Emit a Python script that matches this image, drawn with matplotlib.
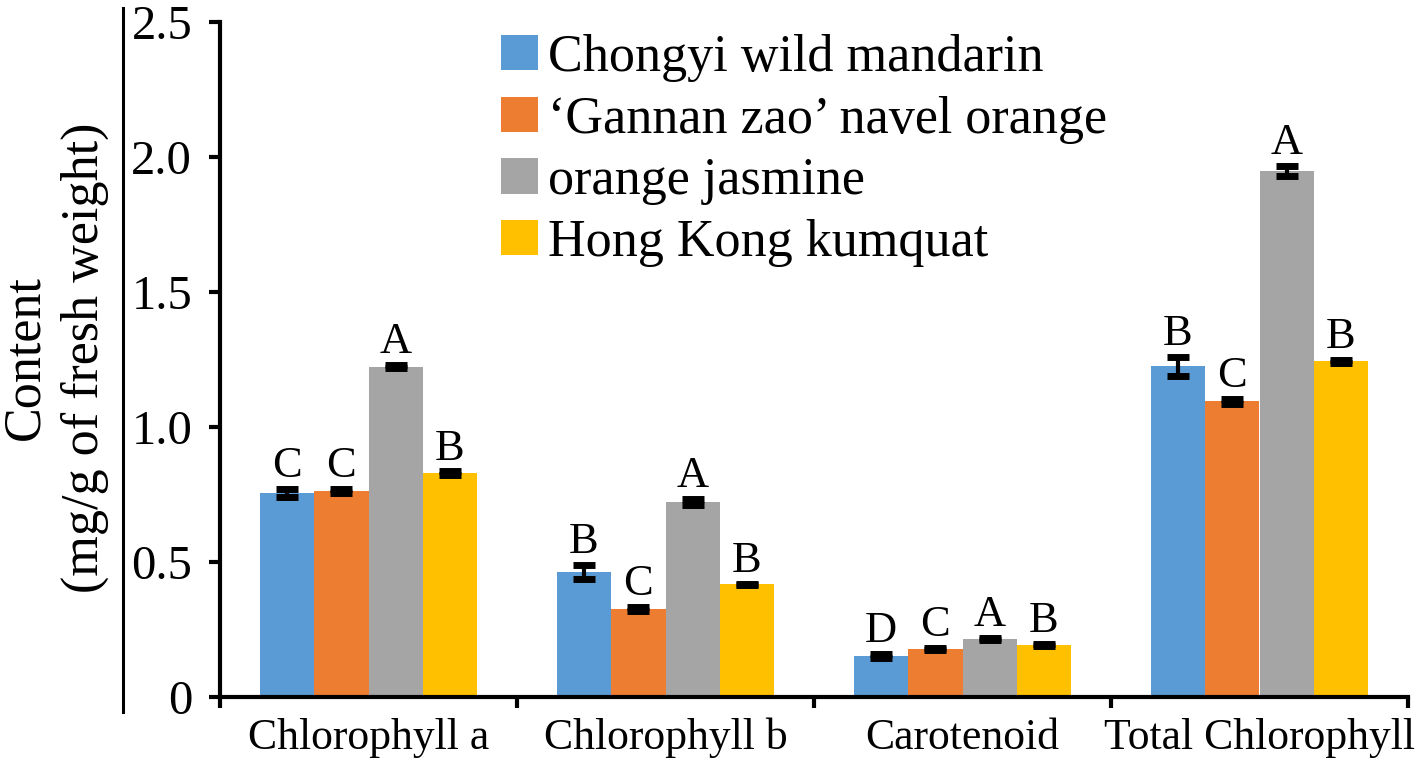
import numpy as np
import matplotlib.pyplot as plt
from matplotlib.lines import Line2D

plt.rcParams['font.family'] = ['Liberation Serif', 'DejaVu Serif']

categories = ["Chlorophyll a", "Chlorophyll b", "Carotenoid", "Total Chlorophyll"]
series = ["Chongyi wild mandarin", "\u2018Gannan zao\u2019 navel orange",
          "orange jasmine", "Hong Kong kumquat"]
colors = ["#5B9BD5", "#ED7D31", "#A5A5A5", "#FFC000"]

# values per series, one entry per category
wild_mandarin = [0.756, 0.463, 0.152, 1.225]
navel_orange = [0.763, 0.326, 0.178, 1.095]
orange_jasmine = [1.224, 0.723, 0.215, 1.948]
kumquat = [0.830, 0.417, 0.193, 1.243]

err_mandarin = [0.015, 0.025, 0.007, 0.035]
err_navel = [0.007, 0.007, 0.003, 0.010]
err_jasmine = [0.006, 0.012, 0.003, 0.018]
err_kumquat = [0.006, 0.003, 0.003, 0.005]

letters_mandarin = ["C", "B", "D", "B"]
letters_navel = ["C", "C", "C", "C"]
letters_jasmine = ["A", "A", "A", "A"]
letters_kumquat = ["B", "B", "B", "B"]

values = [wild_mandarin, navel_orange, orange_jasmine, kumquat]
errors = [err_mandarin, err_navel, err_jasmine, err_kumquat]
letters = [letters_mandarin, letters_navel, letters_jasmine, letters_kumquat]

fig = plt.figure(figsize=(14.18, 7.62), dpi=100)
ax = fig.add_axes([220 / 1418, 1 - 697 / 762, 1188 / 1418, 675 / 762])

x = np.arange(len(categories))
w = 0.183
for i in range(4):
    pos = x + (i - 1.5) * w
    ax.bar(pos, values[i], w, color=colors[i], label=series[i], zorder=2)
    ax.errorbar(pos, values[i], yerr=errors[i], fmt='none', ecolor='black',
                elinewidth=3, capsize=8, capthick=5, zorder=3)
    for p, v, e, t in zip(pos, values[i], errors[i], letters[i]):
        ax.annotate(t, (p, v + e), xytext=(0, 2), textcoords='offset points',
                    ha='center', va='bottom', fontsize=32)

ax.set_xlim(-0.5, 3.5)
ax.set_ylim(0, 2.5)
ax.set_yticks([0, 0.5, 1.0, 1.5, 2.0, 2.5])
ax.set_yticklabels(["0", "0.5", "1.0", "1.5", "2.0", "2.5"])
ax.set_xticks(x)
ax.set_xticklabels(categories)
ax.set_xticks(np.arange(-0.5, 4, 1), minor=True)
ax.tick_params(axis='x', which='major', length=0, labelsize=31.5, pad=15)
ax.tick_params(axis='x', which='minor', length=8, width=3, direction='out')
ax.tick_params(axis='y', length=8, width=3, labelsize=35, pad=12)
for s in ['top', 'right']:
    ax.spines[s].set_visible(False)
for s in ['left', 'bottom']:
    ax.spines[s].set_linewidth(3)

ax.legend(loc='upper left', bbox_to_anchor=((501 - 220) / 1188, (697 - 34) / 675),
          frameon=False, fontsize=37.5, handlelength=0.71, handleheight=0.67,
          handletextpad=0.19, labelspacing=0.26, borderaxespad=0, borderpad=0)

fig.text(55 / 1418, 1 - 358 / 762, "Content\n(mg/g of fresh weight)", rotation=90,
         ha='center', va='center', fontsize=37.5, multialignment='center',
         linespacing=1.3)
fig.add_artist(Line2D([123 / 1418, 123 / 1418], [1 - 712 / 762, 1 - 8 / 762],
                      color='black', linewidth=2.2))

fig.savefig("out.png", dpi=100)
